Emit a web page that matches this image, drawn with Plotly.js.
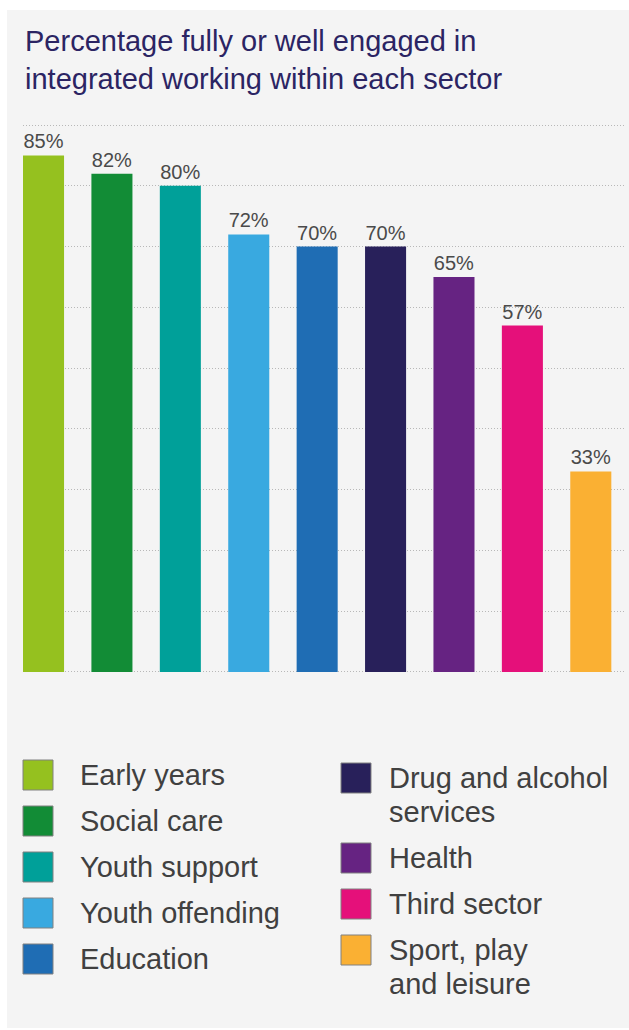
<!DOCTYPE html>
<html>
<head>
<meta charset="utf-8">
<script src="https://cdn.plot.ly/plotly-3.0.1.min.js"></script>
<style>
  html, body { margin: 0; padding: 0; background: #ffffff; }
  #chart { position: absolute; left: 7px; top: 10px; width: 622px; height: 1018px; }
</style>
</head>
<body>
<div id="chart"></div>
<script>
// ---- data ----
const categories = ['Early years', 'Social care', 'Youth support', 'Youth offending', 'Education',
                    'Drug and alcohol services', 'Health', 'Third sector', 'Sport, play and leisure'];
const values = [85, 82, 80, 72, 70, 70, 65, 57, 33];
const legendLabels = ['Early years', 'Social care', 'Youth support', 'Youth offending', 'Education',
                      'Drug and alcohol<br>services', 'Health', 'Third sector', 'Sport, play<br>and leisure'];
const colors = ['#95c11f', '#128c36', '#00a099', '#39a9e0', '#1f6db4',
                '#28205a', '#662382', '#e5107a', '#fab033'];
const yTicks = [0, 10, 20, 30, 40, 50, 60, 70, 80, 90];

// ---- layout geometry (div is 622 x 1018, offset 7,10 on page) ----
const W = 622, H = 1018;
const M = { l: 16, r: 4, t: 112, b: 353 };
const PW = W - M.l - M.r, PH = H - M.t - M.b;
const px2x = px => (px - 7 - M.l) / PW;          // page px -> paper x
const py2y = py => (H - M.b - (py - 10)) / PH;    // page px -> paper y

const FONT = 'Liberation Sans, Arial, Helvetica, sans-serif';

const trace = {
  type: 'bar',
  x: categories,
  y: values,
  base: 0,
  width: 0.6,
  marker: { color: colors, line: { width: 0 } },
  text: values.map(v => v + '%'),
  textposition: 'outside',
  textfont: { family: FONT, size: 20, color: '#4a4a4a' },
  cliponaxis: false,
  hoverinfo: 'x+y',
  showlegend: false
};

// ---- custom legend (two columns) built from the arrays ----
const shapes = [], annotations = [];
const rowPitch = 46, linePitch = 34;
const cols = [
  { idx: [0, 1, 2, 3, 4], sx: 23, tx: 78, start: 775 },
  { idx: [5, 6, 7, 8], sx: 341, tx: 387, start: 778 }
];
cols.forEach(c => {
  let cy = c.start;
  c.idx.forEach(i => {
    shapes.push({
      type: 'rect', xref: 'paper', yref: 'paper',
      x0: px2x(c.sx), x1: px2x(c.sx + 30),
      y0: py2y(cy - 15), y1: py2y(cy + 15),
      fillcolor: colors[i], line: { color: '#808080', width: 1 }
    });
    const lines = legendLabels[i].split('<br>');
    lines.forEach((ln, k) => {
      annotations.push({
        xref: 'paper', yref: 'paper', x: px2x(c.tx), y: py2y(cy + k * linePitch),
        xanchor: 'left', yanchor: 'middle', align: 'left', showarrow: false,
        text: ln,
        font: { family: FONT, size: 29, color: '#404040' }
      });
    });
    cy += rowPitch + (lines.length - 1) * linePitch;
  });
});

const layout = {
  width: W, height: H,
  margin: M,
  paper_bgcolor: '#f4f4f4',
  plot_bgcolor: 'rgba(0,0,0,0)',
  title: {
    text: 'Percentage fully or well engaged in<br>integrated working within each sector',
    font: { family: FONT, size: 29, color: '#2b2463' },
    xref: 'container', yref: 'container',
    x: 18 / W, xanchor: 'left',
    y: 1 - 41 / H, yanchor: 'top'
  },
  xaxis: {
    type: 'category',
    range: [-0.3, 8.5],
    showticklabels: false, showgrid: false, zeroline: false, showline: false, ticks: ''
  },
  yaxis: {
    range: [-0.5, 90.5],
    tickvals: yTicks,
    showticklabels: false, ticks: '',
    showgrid: true, gridcolor: '#b8b8b8', gridwidth: 1, griddash: '1px,2px',
    zeroline: false, showline: false
  },
  bargap: 0.4,
  shapes: shapes,
  annotations: annotations,
  showlegend: false
};

Plotly.newPlot('chart', [trace], layout, { displayModeBar: false, staticPlot: true });
</script>
</body>
</html>
